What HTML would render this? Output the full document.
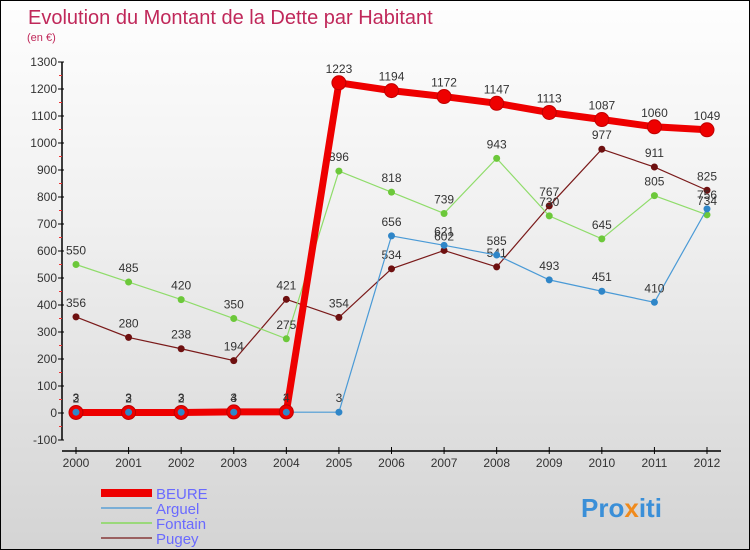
<!DOCTYPE html>
<html><head><meta charset="utf-8"><style>
body{margin:0;}
#c{width:750px;height:550px;position:relative;border:1px solid #000;box-sizing:border-box;background:linear-gradient(#fefefe,#f0f0f0 40%,#d4d4d4);font-family:"Liberation Sans",sans-serif;overflow:hidden}
</style></head><body>
<div id="c">
<svg width="750" height="550" id="s">
<text x="27" y="23" font-size="20" fill="#c0285a">Evolution du Montant de la Dette par Habitant</text>
<text x="26" y="40" font-size="11" fill="#c0285a">(en €)</text>
<g id="axes"></g><g id="series"></g><g id="legend"></g>
<text x="580" y="516" font-size="26" font-weight="bold" fill="#3a8fd8">Pro<tspan fill="#f08a1c">x</tspan>iti</text>
</svg>
</div>
<script>
const years=[2000,2001,2002,2003,2004,2005,2006,2007,2008,2009,2010,2011,2012];
const yTicks=[-100,0,100,200,300,400,500,600,700,800,900,1000,1100,1200,1300];
const beure=[2,2,2,4,4,1223,1194,1172,1147,1113,1087,1060,1049];
const arguel=[3,3,3,3,3,3,656,621,585,493,451,410,756];
const fontain=[550,485,420,350,275,896,818,739,943,730,645,805,734];
const pugey=[356,280,238,194,421,354,534,602,541,767,977,911,825];
const NS="http://www.w3.org/2000/svg";
const X=i=>75+i*(706-75)/12;
const Y=v=>412-v*0.27;
function mk(tag,attrs,parent){const e=document.createElementNS(NS,tag);for(const k in attrs)e.setAttribute(k,attrs[k]);parent.appendChild(e);return e;}
const ax=document.getElementById('axes');
let a=mk('line',{x1:61,y1:Y(1300),x2:61,y2:Y(-100),stroke:'#000','stroke-width':1.5},ax);


a=mk('line',{x1:61,y1:450,x2:720,y2:450,stroke:'#000','stroke-width':1.5},ax);


yTicks.forEach(v=>{
 mk('line',{x1:57,y1:Y(v),x2:63,y2:Y(v),stroke:'#000'},ax);
 if(v<1300) mk('line',{x1:58,y1:Y(v+50),x2:61,y2:Y(v+50),stroke:'#e33'},ax);
 const t=mk('text',{x:56,y:Y(v)+4,'font-size':12,'text-anchor':'end',fill:'#333'},ax);
 t.textContent=v;
 
 
});
years.forEach((y,i)=>{
 mk('line',{x1:X(i),y1:446,x2:X(i),y2:453,stroke:'#000'},ax);
 const t=mk('text',{x:X(i),y:466,'font-size':12,'text-anchor':'middle',fill:'#333'},ax);
 t.textContent=y;
 
 
});
const sg=document.getElementById('series');
const defs=[['pugey',pugey,'#7a1a1a','#6e1010',1.2,3.5],['fontain',fontain,'#8fdc6a','#6cc83a',1.2,3.5],['arguel',arguel,'#4a9ad6','#2f86c8',1.2,3.5],['beure',beure,'#ee0000','#ee0000',7,7]];
defs.forEach(([n,d,lc,pc,w,r])=>{
 const g=mk('g',{},sg);
 
 
 const p=mk('polyline',{points:d.map((v,i)=>X(i)+','+Y(v)).join(' '),fill:'none',stroke:lc,'stroke-width':w},g);
 
 
 d.forEach((v,i)=>{
  const c=mk('circle',{cx:X(i),cy:Y(v),r:r,fill:pc},g);
  if(n==='beure'){c.setAttribute('stroke','#c00000');c.setAttribute('stroke-width','1');}
  
  
  const t=mk('text',{x:X(i),y:Y(v)-10,'font-size':12,'text-anchor':'middle',fill:'#333'},g);
  t.textContent=v;
  
  
 });
});
arguel.slice(0,5).forEach((v,i)=>{mk('circle',{cx:X(i),cy:Y(v),r:3.5,fill:'#2f86c8'},sg);});
const lg=document.getElementById('legend');
const leg=[['BEURE','#ee0000',8],['Arguel','#7aaed6',2],['Fontain','#9ad87a',2],['Pugey','#9a6060',2]];
leg.forEach(([n,c,w],i)=>{
 const y=492+i*15;
 const g=mk('g',{},lg);
 
 
 mk('line',{x1:100,y1:y,x2:151,y2:y,stroke:c,'stroke-width':w},g);
 const t=mk('text',{x:155,y:y+6,'font-size':15,fill:'#6a6aff'},g);
 t.textContent=n;
});
</script>
</body></html>
